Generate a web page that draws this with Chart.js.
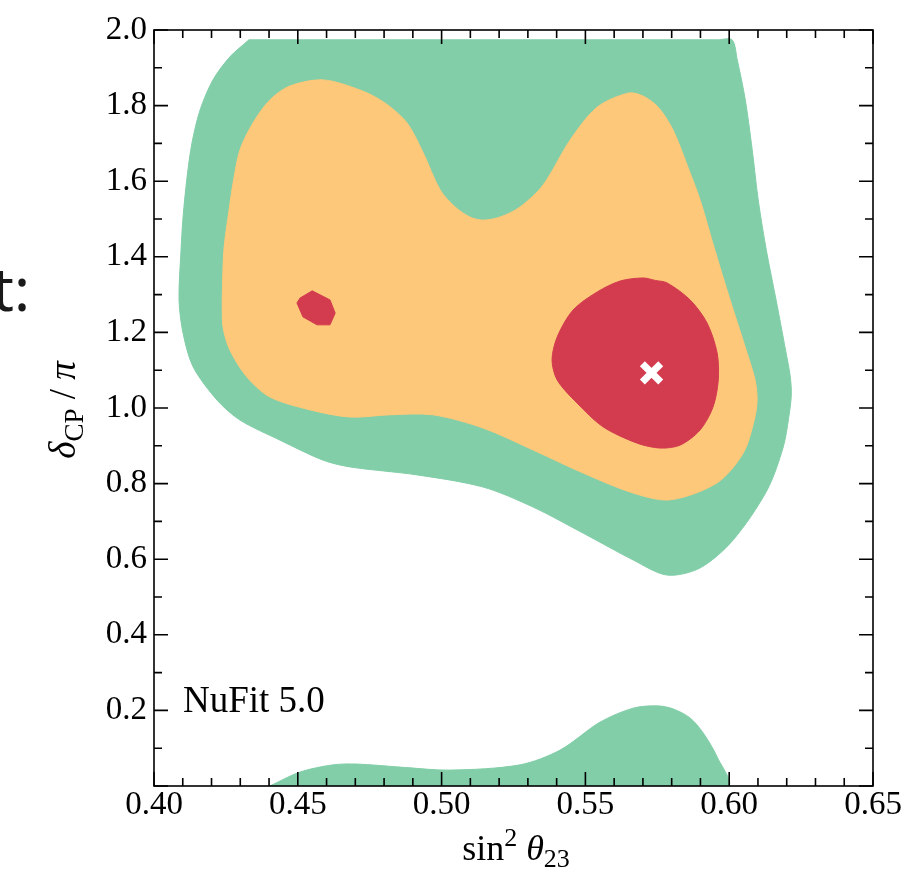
<!DOCTYPE html>
<html>
<head>
<meta charset="utf-8">
<script src="https://cdn.jsdelivr.net/npm/chart.js@4.4.0/dist/chart.umd.min.js"></script>
<style>
body { margin: 0; background: #fff; }
</style>
</head>
<body>
<canvas id="contourChart" width="923" height="870"></canvas>
<script>
// contour outlines, points are [sin^2 theta23, deltaCP / pi]
var green3sigma = [
  [0.433, 1.974], [0.596, 1.974], [0.601, 1.974], [0.6028, 1.921], [0.6056, 1.815], [0.6080, 1.683],
  [0.6101, 1.550], [0.6129, 1.418], [0.6163, 1.286], [0.6196, 1.153], [0.6212, 1.085], [0.6216, 1.035],
  [0.6207, 0.975], [0.6188, 0.897], [0.6132, 0.783], [0.6014, 0.651], [0.5899, 0.577], [0.5784, 0.558],
  [0.5666, 0.598], [0.5492, 0.669], [0.5318, 0.738], [0.5144, 0.791], [0.4915, 0.823], [0.4682, 0.844],
  [0.4588, 0.862], [0.4438, 0.915], [0.4299, 0.968], [0.4219, 1.021], [0.4136, 1.109], [0.4101, 1.198],
  [0.4087, 1.286], [0.4094, 1.418], [0.4101, 1.505], [0.4115, 1.611], [0.4132, 1.701], [0.4160, 1.788],
  [0.4205, 1.868], [0.4264, 1.929], [0.433, 1.974]
];
var green3sigmaLow = [
  [0.4403, 0], [0.4508, 0.037], [0.4623, 0.056], [0.4706, 0.058], [0.4856, 0.050], [0.5030, 0.042],
  [0.5273, 0.056], [0.5412, 0.095], [0.5551, 0.169], [0.5666, 0.206], [0.5750, 0.212], [0.5805, 0.204],
  [0.5864, 0.180], [0.5910, 0.140], [0.5958, 0.077], [0.5993, 0], [0.4403, 0]
];
var orange2sigma = [
  [0.4237, 1.286], [0.4243, 1.418], [0.4261, 1.524], [0.4275, 1.595], [0.4299, 1.683], [0.4344, 1.754],
  [0.4403, 1.815], [0.4473, 1.852], [0.4588, 1.868], [0.4717, 1.841], [0.4803, 1.807], [0.4880, 1.754],
  [0.4936, 1.675], [0.4995, 1.577], [0.5047, 1.532], [0.5099, 1.505], [0.5144, 1.497], [0.5203, 1.505],
  [0.5273, 1.532], [0.5353, 1.590], [0.5447, 1.709], [0.5541, 1.796], [0.5649, 1.833], [0.5701, 1.825],
  [0.5753, 1.796], [0.5805, 1.735], [0.5864, 1.622], [0.5899, 1.550], [0.5950, 1.418], [0.6003, 1.286],
  [0.6059, 1.153], [0.6090, 1.074], [0.6097, 1.021], [0.6087, 0.968], [0.6049, 0.881], [0.5958, 0.802],
  [0.5795, 0.757], [0.5666, 0.775], [0.5492, 0.828], [0.5318, 0.889], [0.5144, 0.947], [0.4970, 0.982],
  [0.4821, 0.982], [0.4682, 0.976], [0.4543, 0.995], [0.4403, 1.029], [0.4323, 1.082], [0.4264, 1.153],
  [0.4240, 1.214], [0.4237, 1.286]
];
var red1sigma = [
  [0.5743, 1.3375], [0.5784, 1.331], [0.5864, 1.286], [0.5923, 1.225], [0.5958, 1.146], [0.5962, 1.074],
  [0.5944, 1.003], [0.5899, 0.942], [0.5830, 0.902], [0.5760, 0.894], [0.5680, 0.907], [0.5562, 0.950],
  [0.5471, 1.013], [0.5402, 1.074], [0.5384, 1.127], [0.5402, 1.188], [0.5457, 1.259], [0.5541, 1.307],
  [0.5621, 1.336], [0.5701, 1.344], [0.5743, 1.3375]
];
var red1sigmaSmall = [
  [0.4550, 1.310], [0.4612, 1.286], [0.4630, 1.251], [0.4612, 1.220], [0.4567, 1.220],
  [0.4518, 1.241], [0.4497, 1.278], [0.4508, 1.291], [0.4550, 1.310]
];
var bestFit = [[0.573, 1.093]];

var xTickLabels = ['0.40', '0.45', '0.50', '0.55', '0.60', '0.65'];
var yTickLabels = ['', '0.2', '0.4', '0.6', '0.8', '1.0', '1.2', '1.4', '1.6', '1.8', '2.0'];

var green = '#82cea8';
var orange = '#fdc87a';
var red = '#d33c4f';

Chart.defaults.font.family = '"Liberation Serif", serif';
Chart.defaults.color = '#000';

function toXY(arr) {
  return arr.map(function (p) { return { x: p[0], y: p[1] }; });
}

function region(label, pts, color, order, tension) {
  return {
    label: label,
    data: toXY(pts),
    showLine: true,
    fill: 'shape',
    backgroundColor: color,
    borderColor: color,
    borderWidth: 1,
    pointRadius: 0,
    tension: tension === undefined ? 0.3 : tension,
    order: order
  };
}

// draws text pieces with sub/superscripts, centred on cx
function drawRich(c, parts, cx, baseY) {
  var total = 0;
  parts.forEach(function (p) {
    c.font = (p.italic ? 'italic ' : '') + p.size + 'px "Liberation Serif"';
    p.w = c.measureText(p.t).width;
    total += p.w;
  });
  var x = cx - total / 2;
  c.textAlign = 'left';
  c.textBaseline = 'alphabetic';
  parts.forEach(function (p) {
    c.font = (p.italic ? 'italic ' : '') + p.size + 'px "Liberation Serif"';
    c.fillText(p.t, x, baseY + (p.dy || 0));
    x += p.w;
  });
}

var framePlugin = {
  id: 'frame',
  afterDraw: function (chart) {
    var c = chart.ctx, a = chart.chartArea;
    var xs = chart.scales.x, ys = chart.scales.y;
    c.save();
    c.strokeStyle = '#000';
    c.lineWidth = 1.6;
    c.strokeRect(a.left, a.top, a.right - a.left, a.bottom - a.top);
    c.beginPath();
    for (var i = 40; i <= 65; i++) {
      var px = xs.getPixelForValue(i / 100);
      var len = i % 5 === 0 ? 14 : 8;
      c.moveTo(px, a.bottom); c.lineTo(px, a.bottom - len);
      c.moveTo(px, a.top); c.lineTo(px, a.top + len);
    }
    for (var j = 0; j <= 20; j++) {
      var py = ys.getPixelForValue(j / 10);
      var l2 = j % 2 === 0 ? 14 : 8;
      c.moveTo(a.left, py); c.lineTo(a.left + l2, py);
      c.moveTo(a.right, py); c.lineTo(a.right - l2, py);
    }
    c.stroke();

    c.fillStyle = '#000';
    c.font = '37px "Liberation Serif"';
    c.textAlign = 'left';
    c.textBaseline = 'alphabetic';
    c.fillText('NuFit 5.0', a.left + 29, 712);

    drawRich(c, [
      { t: 'sin', size: 36 },
      { t: '2', size: 26, dy: -14 },
      { t: ' ', size: 36 },
      { t: 'θ', size: 36, italic: true },
      { t: '23', size: 26, dy: 7 }
    ], 516, 860);

    c.save();
    c.translate(75, 410);
    c.rotate(-Math.PI / 2);
    drawRich(c, [
      { t: 'δ', size: 37, italic: true },
      { t: 'CP', size: 27, dy: 8 },
      { t: ' / ', size: 37 },
      { t: 'π', size: 37, italic: true }
    ], 0, 0);
    c.restore();

    c.fillStyle = '#1a1a1a';
    c.font = '60px "Noto Sans"';
    c.textAlign = 'right';
    c.fillText('t:', 30, 311);
    c.restore();
  }
};

var canvasElement = document.getElementById('contourChart');
var chart = new Chart(canvasElement, {
  type: 'scatter',
  data: {
    datasets: [
      region('3 sigma', green3sigma, green, 5),
      region('3 sigma', green3sigmaLow, green, 5),
      region('2 sigma', orange2sigma, orange, 4),
      region('1 sigma', red1sigma, red, 3),
      region('1 sigma', red1sigmaSmall, red, 3, 0),
      {
        label: 'best fit',
        data: toXY(bestFit),
        pointStyle: 'crossRot',
        pointRadius: 13,
        pointBorderWidth: 7,
        pointBorderColor: '#fff',
        pointBackgroundColor: '#fff',
        order: 1
      }
    ]
  },
  options: {
    responsive: false,
    animation: false,
    layout: { padding: { top: 30, right: 50, left: 0, bottom: 0 } },
    plugins: { legend: { display: false }, tooltip: { enabled: false } },
    scales: {
      x: {
        type: 'linear', min: 0.40, max: 0.65,
        grid: { display: false, drawTicks: false },
        border: { display: false },
        ticks: {
          stepSize: 0.05, padding: 0, maxRotation: 0, autoSkip: false,
          font: { size: 33 },
          callback: function (v, i) { return xTickLabels[i]; }
        },
        afterFit: function (s) { s.height = 84; }
      },
      y: {
        type: 'linear', min: 0, max: 2,
        grid: { display: false, drawTicks: false },
        border: { display: false },
        ticks: {
          stepSize: 0.2, padding: 7, autoSkip: false,
          font: { size: 33 },
          callback: function (v, i) { return yTickLabels[i]; }
        },
        afterFit: function (s) { s.width = 154; }
      }
    }
  },
  plugins: [framePlugin]
});
</script>
</body>
</html>
